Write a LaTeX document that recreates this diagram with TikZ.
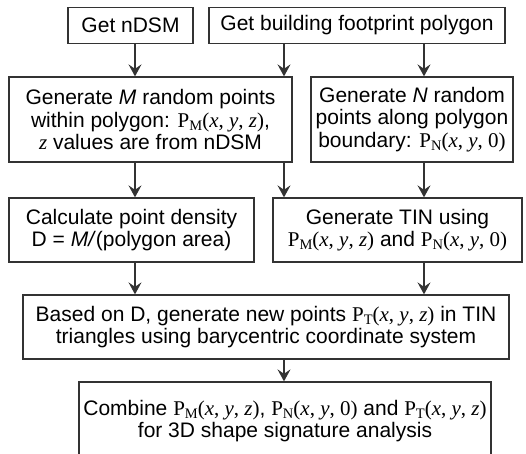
\documentclass[tikz,border=0pt]{standalone}
\usepackage{fontspec}
\setmainfont{Liberation Sans}
\newfontfamily\tms{Liberation Serif}
\usetikzlibrary{arrows.meta}
\newcommand\Psub[1]{{\tms P\raisebox{-0.35ex}{\fontsize{14.5pt}{14.5pt}\selectfont #1}}}
\newcommand\cxyz{{\tms(\textit{x}, \textit{y}, \textit{z})}}
\newcommand\cxyo{{\tms(\textit{x}, \textit{y}, 0)}}
\definecolor{ln}{HTML}{333333}
\begin{document}
\begin{tikzpicture}[x=1pt,y=-1pt,
  box/.style={draw=ln,line width=1.3pt,rectangle,inner sep=0pt,align=center,
    font=\fontsize{21pt}{22.5pt}\selectfont},
  arr/.style={draw=ln,line width=1.3pt,-{Stealth[length=12pt,width=13pt,inset=4.5pt]}}]
\useasboundingbox (0,0) rectangle (526,453);
\fill[white] (0,0) rectangle (526,453);
\node[box,minimum width=125pt,minimum height=36pt] (b1) at (130.5,25.5) {Get nDSM};
\node[box,minimum width=296pt,minimum height=36pt] (b2) at (357,25.5) {Get building footprint polygon};
\node[box,minimum width=283pt,minimum height=85pt] (b3) at (150.5,119.5)
  {Generate \textit{M} random points\\within polygon: \Psub{M}\cxyz,\\{\tms\textit{z}} values are from nDSM};
\node[box,minimum width=202pt,minimum height=85pt] (b4) at (412,119.5)
  {Generate \textit{N} random\\points along polygon\\boundary: \Psub{N}\cxyo};
\node[box,minimum width=245pt,minimum height=64pt] (b5) at (131.5,230)
  {Calculate point density\\D = \textit{M/}(polygon area)};
\node[box,minimum width=249pt,minimum height=64pt] (b6) at (397.5,230)
  {Generate TIN using\\\Psub{M}\cxyz{} and \Psub{N}\cxyo};
\node[box,minimum width=486pt,minimum height=64pt] (b7) at (266,327)
  {Based on D, generate new points \Psub{T}\cxyz{} in TIN\\triangles using barycentric coordinate system};
\node[box,minimum width=412pt,minimum height=78pt] (b8) at (285,421)
  {Combine \Psub{M}\cxyz, \Psub{N}\cxyo{} and \Psub{T}\cxyz\\for 3D shape signature analysis};
\coordinate (xa) at (135,0);
\coordinate (xb) at (284,0);
\coordinate (xc) at (424,0);
\draw[arr] (b1.south -| xa) -- (b3.north -| xa);
\draw[arr] (b2.south -| xb) -- (b3.north -| xb);
\draw[arr] (b2.south -| xc) -- (b4.north -| xc);
\draw[arr] (b3.south -| xa) -- (b5.north -| xa);
\draw[arr] (b3.south -| xb) -- (b6.north -| xb);
\draw[arr] (b4.south -| xc) -- (b6.north -| xc);
\draw[arr] (b5.south -| xa) -- (b7.north -| xa);
\draw[arr] (b6.south -| xc) -- (b7.north -| xc);
\draw[arr] (b7.south -| xb) -- (b8.north -| xb);
\end{tikzpicture}
\end{document}
